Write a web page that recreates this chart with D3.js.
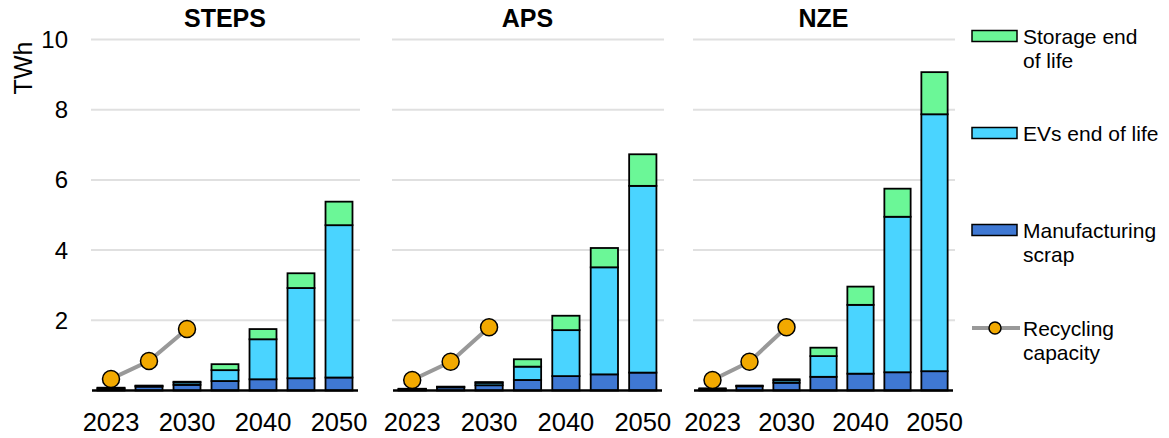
<html>
<head>
<title>Battery recycling feedstock</title>
<script src="https://cdn.jsdelivr.net/npm/d3@7"></script>
<style>
body { margin: 0; background: #fff; font-family: "Liberation Sans", Arial, sans-serif; }
svg { display: block; }
text { fill: #000; }
.grid line { stroke: #e0e0e0; stroke-width: 2; }
.bar { stroke: #000; stroke-width: 1.8; }
</style>
</head>
<body>
<div id="chart"></div>
<script>

var width = 1169;
var height = 438;

// data (TWh)
var scenarios = ["STEPS", "APS", "NZE"];
var years = ["2023", "2025", "2030", "2035", "2040", "2045", "2050"];
var yearLabels = ["2023", "2030", "2040", "2050"];
var yTicks = [2, 4, 6, 8, 10];

var seriesNames = ["Manufacturing scrap", "EVs end of life", "Storage end of life"];
var seriesColors = ["#3f78d3", "#4ad4ff", "#6bf797"];

var scrapSTEPS   = [0.04, 0.11, 0.16, 0.27, 0.32, 0.35, 0.37];
var evsSTEPS     = [0.03, 0.02, 0.07, 0.31, 1.14, 2.57, 4.34];
var storageSTEPS = [0.01, 0.01, 0.02, 0.17, 0.29, 0.42, 0.67];

var scrapAPS   = [0.03, 0.09, 0.15, 0.30, 0.41, 0.46, 0.51];
var evsAPS     = [0.01, 0.01, 0.07, 0.38, 1.31, 3.05, 5.32];
var storageAPS = [0.01, 0.01, 0.02, 0.21, 0.41, 0.55, 0.90];

var scrapNZE   = [0.04, 0.12, 0.22, 0.39, 0.48, 0.52, 0.55];
var evsNZE     = [0.01, 0.01, 0.07, 0.59, 1.96, 4.43, 7.32];
var storageNZE = [0.01, 0.01, 0.03, 0.24, 0.52, 0.80, 1.20];

var recycleYears = ["2023", "2025", "2030"];
var recycleSTEPS = [0.33, 0.84, 1.75];
var recycleAPS   = [0.30, 0.82, 1.80];
var recycleNZE   = [0.30, 0.82, 1.80];

var panelData = {
  STEPS: { series: [scrapSTEPS, evsSTEPS, storageSTEPS], recycle: recycleSTEPS },
  APS:   { series: [scrapAPS, evsAPS, storageAPS], recycle: recycleAPS },
  NZE:   { series: [scrapNZE, evsNZE, storageNZE], recycle: recycleNZE }
};

// panel horizontal extents
var panelRanges = { STEPS: [92, 358], APS: [393, 662], NZE: [694, 953] };

var svg = d3.select("#chart").append("svg")
  .attr("width", width).attr("height", height);

var yScale = d3.scaleLinear().domain([0, 10]).range([390.5, 39.5]);

// y axis labels
svg.append("g").selectAll("text").data(yTicks).enter().append("text")
  .attr("x", 68)
  .attr("y", function (d) { return yScale(d); })
  .attr("text-anchor", "end")
  .attr("dominant-baseline", "central")
  .style("font-size", "24px")
  .text(function (d) { return d; });

svg.append("text")
  .attr("transform", "translate(32, 68) rotate(-90)")
  .attr("text-anchor", "middle")
  .style("font-size", "25px")
  .text("TWh");

scenarios.forEach(function (sc) {
  var range = panelRanges[sc];
  var d = panelData[sc];

  var xScale = d3.scaleBand().domain(years).range(range)
    .paddingInner(0.29).paddingOuter(0.145);

  var g = svg.append("g");

  // gridlines
  g.append("g").attr("class", "grid").selectAll("line").data(yTicks).enter().append("line")
    .attr("x1", range[0] - 1).attr("x2", range[1] + 2)
    .attr("y1", function (t) { return yScale(t); })
    .attr("y2", function (t) { return yScale(t); });

  // stacked bars
  var rows = years.map(function (y, i) {
    var r = { year: y };
    seriesNames.forEach(function (s, k) { r[s] = d.series[k][i]; });
    return r;
  });
  var stacked = d3.stack().keys(seriesNames)(rows);

  g.selectAll("g.layer").data(stacked).enter().append("g")
    .attr("class", "layer")
    .style("fill", function (l, k) { return seriesColors[k]; })
    .selectAll("rect").data(function (l) { return l; }).enter().append("rect")
    .attr("class", "bar")
    .attr("x", function (p) { return xScale(p.data.year); })
    .attr("width", xScale.bandwidth())
    .attr("y", function (p) { return yScale(p[1]); })
    .attr("height", function (p) { return yScale(p[0]) - yScale(p[1]); });

  // x axis line
  g.append("line")
    .attr("x1", range[0]).attr("x2", range[1])
    .attr("y1", yScale(0)).attr("y2", yScale(0))
    .style("stroke", "#000").style("stroke-width", 2.5);

  // x labels
  g.selectAll("text.xlab").data(yearLabels).enter().append("text")
    .attr("class", "xlab")
    .attr("x", function (y) { return xScale(y) + xScale.bandwidth() / 2; })
    .attr("y", 431)
    .attr("text-anchor", "middle")
    .style("font-size", "25.5px")
    .text(function (y) { return y; });

  // recycling capacity
  var line = d3.line()
    .x(function (v, i) { return xScale(recycleYears[i]) + xScale.bandwidth() / 2; })
    .y(function (v) { return yScale(v); });

  g.append("path").datum(d.recycle)
    .attr("d", line)
    .style("fill", "none").style("stroke", "#999").style("stroke-width", 4);

  g.selectAll("circle").data(d.recycle).enter().append("circle")
    .attr("cx", function (v, i) { return xScale(recycleYears[i]) + xScale.bandwidth() / 2; })
    .attr("cy", function (v) { return yScale(v); })
    .attr("r", 8.5)
    .style("fill", "#f2a900").style("stroke", "#000").style("stroke-width", 1.5);

  // title
  g.append("text")
    .attr("x", (range[0] + range[1]) / 2)
    .attr("y", 27)
    .attr("text-anchor", "middle")
    .style("font-size", "25px").style("font-weight", "bold")
    .text(sc);
});

// legend
var legendItems = [
  { lines: ["Storage end", "of life"], color: seriesColors[2], y: 36 },
  { lines: ["EVs end of life"], color: seriesColors[1], y: 133 },
  { lines: ["Manufacturing", "scrap"], color: seriesColors[0], y: 230 },
  { lines: ["Recycling", "capacity"], color: null, y: 328 }
];

var legend = svg.append("g");
legendItems.forEach(function (item) {
  if (item.color) {
    legend.append("rect")
      .attr("x", 972).attr("y", item.y - 5.5)
      .attr("width", 45).attr("height", 11)
      .style("fill", item.color).style("stroke", "#000").style("stroke-width", 1.5);
  } else {
    legend.append("line")
      .attr("x1", 972).attr("x2", 1020)
      .attr("y1", item.y).attr("y2", item.y)
      .style("stroke", "#999").style("stroke-width", 4);
    legend.append("circle")
      .attr("cx", 995).attr("cy", item.y).attr("r", 6)
      .style("fill", "#f2a900").style("stroke", "#000").style("stroke-width", 1.5);
  }
  item.lines.forEach(function (t, i) {
    legend.append("text")
      .attr("x", 1023).attr("y", item.y + i * 24)
      .attr("dominant-baseline", "central")
      .style("font-size", "21px")
      .text(t);
  });
});

</script>
</body>
</html>
